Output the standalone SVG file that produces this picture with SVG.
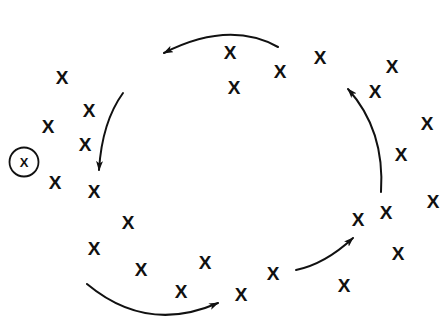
<svg xmlns="http://www.w3.org/2000/svg" width="446" height="324" viewBox="0 0 446 324">
<style>
.x{font-family:"Liberation Sans",Arial,sans-serif;font-weight:bold;font-size:19px;fill:#111;text-anchor:middle}
.xs{font-family:"Liberation Sans",Arial,sans-serif;font-weight:bold;font-size:13px;fill:#111;text-anchor:middle}
.arc{fill:none;stroke:#111;stroke-width:2;stroke-linecap:round}
</style>
<defs>
<marker id="ah" viewBox="0 0 10 7" refX="9" refY="3.5" markerWidth="10" markerHeight="7" markerUnits="userSpaceOnUse" orient="auto">
<path d="M0,0 L10,3.5 L0,7 L2.5,3.5 z" fill="#111"/>
</marker>
</defs>
<rect width="446" height="324" fill="#fff"/>
<g id="connectors">
<path class="arc" d="M278,47 Q229,20 164,53" marker-end="url(#ah)"/>
<path class="arc" d="M123,93 Q102,122 99,170" marker-end="url(#ah)"/>
<path class="arc" d="M87,284 Q147,334 218,303" marker-end="url(#ah)"/>
<path class="arc" d="M296,270 Q325,264 353,238" marker-end="url(#ah)"/>
<path class="arc" d="M381,192 Q385,130 348,89" marker-end="url(#ah)"/>
</g>
<g id="n1"><text class="x" x="62" y="84">X</text></g>
<g id="n2"><text class="x" x="89" y="117">X</text></g>
<g id="n3"><text class="x" x="48" y="133">X</text></g>
<g id="n4"><text class="x" x="85" y="151">X</text></g>
<g id="n5"><circle cx="24" cy="162" r="14.5" fill="none" stroke="#111" stroke-width="1.8"/><text class="xs" x="24" y="166.7">X</text></g>
<g id="n6"><text class="x" x="55" y="189">X</text></g>
<g id="n7"><text class="x" x="94" y="198">X</text></g>
<g id="n8"><text class="x" x="128" y="229">X</text></g>
<g id="n9"><text class="x" x="94" y="255">X</text></g>
<g id="n10"><text class="x" x="141" y="276">X</text></g>
<g id="n11"><text class="x" x="181" y="298">X</text></g>
<g id="n12"><text class="x" x="205" y="269">X</text></g>
<g id="n13"><text class="x" x="241" y="301">X</text></g>
<g id="n14"><text class="x" x="273" y="280">X</text></g>
<g id="n15"><text class="x" x="230" y="59">X</text></g>
<g id="n16"><text class="x" x="234" y="94">X</text></g>
<g id="n17"><text class="x" x="280" y="78">X</text></g>
<g id="n18"><text class="x" x="320" y="64">X</text></g>
<g id="n19"><text class="x" x="392" y="73">X</text></g>
<g id="n20"><text class="x" x="375" y="98">X</text></g>
<g id="n21"><text class="x" x="427" y="130">X</text></g>
<g id="n22"><text class="x" x="401" y="161">X</text></g>
<g id="n23"><text class="x" x="433" y="208">X</text></g>
<g id="n24"><text class="x" x="386" y="219">X</text></g>
<g id="n25"><text class="x" x="358" y="226">X</text></g>
<g id="n26"><text class="x" x="398" y="260">X</text></g>
<g id="n27"><text class="x" x="344" y="292">X</text></g>
</svg>
